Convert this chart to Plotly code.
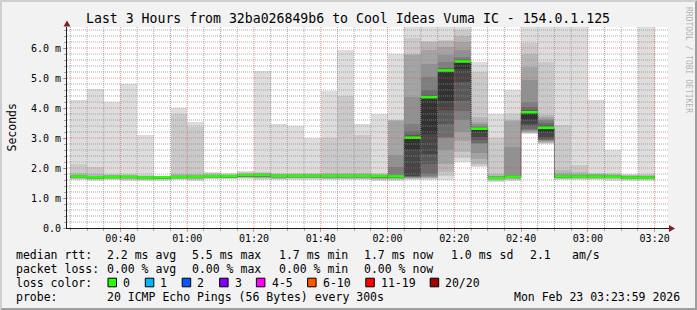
import plotly.graph_objects as go
import pandas as pd

W, H = 697, 310
L, R, T, B = 67, 29, 27, 82
PW = W - L - R
PH = H - T - B
Y0PIX = H - B

def px(x):
    return (x - L) / PW

def py(y):
    return (Y0PIX - y) / PH

DAY = "2026-02-23 "
FONT = "DejaVu Sans Mono"

# ---------------- data ----------------
bar_starts = ["00:25", "00:30", "00:35", "00:40", "00:45", "00:50", "00:55",
              "01:00", "01:05", "01:10", "01:15", "01:20", "01:25", "01:30", "01:35",
              "01:40", "01:45", "01:50", "01:55", "02:00", "02:05", "02:10", "02:15",
              "02:20", "02:25", "02:30", "02:35", "02:40", "02:45", "02:50", "02:55",
              "03:00", "03:05", "03:10", "03:15"]

median_ms = [1.72, 1.69, 1.70, 1.71, 1.68, 1.69, 1.70, 1.71, 1.73, 1.73, 1.76, 1.76,
             1.74, 1.74, 1.74, 1.74, 1.74, 1.74, 1.73, 1.72, 3.01, 4.36, 5.25, 5.55,
             3.31, 1.66, 1.71, 3.86, 3.34, 1.72, 1.72, 1.72, 1.71, 1.68, 1.68]

# 20 sorted ping rtts (ms) per 5-minute step
pings_ms = [
    [1.60,1.63,1.65,1.67,1.68,1.69,1.70,1.71,1.71,1.72,1.72,1.73,1.73,1.74,1.75,1.76,1.78,1.83,2.14,4.28],
    [1.58,1.61,1.63,1.64,1.65,1.66,1.67,1.68,1.68,1.69,1.69,1.70,1.70,1.71,1.72,1.73,1.75,1.80,2.04,4.64],
    [1.59,1.62,1.64,1.65,1.66,1.67,1.68,1.69,1.69,1.70,1.70,1.71,1.71,1.72,1.73,1.74,1.76,1.78,1.80,4.21],
    [1.58,1.61,1.63,1.65,1.66,1.67,1.68,1.69,1.70,1.70,1.71,1.71,1.72,1.72,1.73,1.74,1.75,1.77,1.80,4.80],
    [1.56,1.59,1.61,1.63,1.64,1.65,1.66,1.67,1.67,1.68,1.68,1.69,1.69,1.70,1.71,1.72,1.73,1.75,1.78,3.11],
    [1.58,1.60,1.62,1.63,1.64,1.65,1.66,1.67,1.68,1.69,1.69,1.70,1.70,1.71,1.71,1.72,1.72,1.73,1.74,1.75],
    [1.59,1.62,1.64,1.65,1.66,1.67,1.68,1.69,1.70,1.70,1.70,1.71,1.72,1.72,1.73,1.74,1.76,1.80,3.81,4.01],
    [1.56,1.60,1.63,1.65,1.66,1.67,1.68,1.69,1.70,1.71,1.71,1.72,1.72,1.73,1.74,1.75,1.77,1.80,3.36,3.54],
    [1.62,1.64,1.66,1.67,1.68,1.69,1.70,1.71,1.72,1.73,1.73,1.74,1.74,1.75,1.76,1.77,1.78,1.80,1.83,1.87],
    [1.62,1.64,1.66,1.67,1.68,1.69,1.70,1.71,1.72,1.72,1.73,1.73,1.74,1.75,1.75,1.76,1.77,1.78,1.80,1.83],
    [1.63,1.66,1.68,1.69,1.70,1.71,1.72,1.73,1.74,1.75,1.76,1.76,1.77,1.78,1.79,1.80,1.81,1.83,1.86,1.89],
    [1.61,1.64,1.67,1.68,1.69,1.70,1.71,1.72,1.74,1.75,1.76,1.77,1.77,1.78,1.79,1.80,1.82,1.84,1.88,5.24],
    [1.60,1.63,1.65,1.67,1.68,1.69,1.70,1.71,1.72,1.73,1.74,1.74,1.75,1.76,1.77,1.78,1.79,1.81,1.84,3.48],
    [1.61,1.64,1.66,1.67,1.68,1.69,1.70,1.71,1.72,1.73,1.74,1.74,1.75,1.76,1.77,1.78,1.79,1.81,1.83,3.41],
    [1.61,1.64,1.66,1.67,1.68,1.69,1.70,1.71,1.72,1.73,1.74,1.74,1.75,1.76,1.77,1.78,1.79,1.80,1.83,3.01],
    [1.60,1.63,1.65,1.67,1.68,1.69,1.70,1.71,1.72,1.73,1.74,1.74,1.75,1.76,1.77,1.78,1.80,1.84,3.00,4.56],
    [1.60,1.63,1.65,1.67,1.68,1.69,1.70,1.71,1.72,1.73,1.74,1.75,1.75,1.76,1.77,1.78,1.80,1.85,4.41,5.94],
    [1.60,1.63,1.65,1.67,1.68,1.69,1.70,1.71,1.72,1.73,1.74,1.74,1.75,1.76,1.77,1.78,1.80,1.83,3.11,3.47],
    [1.58,1.61,1.63,1.65,1.67,1.68,1.69,1.70,1.71,1.72,1.73,1.74,1.74,1.75,1.76,1.77,1.78,1.80,1.83,3.79],
    [1.58,1.61,1.63,1.65,1.66,1.67,1.68,1.69,1.70,1.71,1.72,1.73,1.75,1.78,2.03,2.42,3.58,3.59,3.60,5.79],
    [1.60,1.63,1.65,1.66,1.68,1.69,1.70,1.72,1.75,2.60,3.02,3.05,3.10,3.25,3.48,4.38,5.78,5.80,6.33,7.00],
    [1.61,1.64,1.66,1.68,1.70,1.74,1.81,2.14,2.47,3.14,4.36,4.38,4.43,4.59,5.03,5.48,5.95,6.20,6.22,7.00],
    [1.59,1.75,1.86,2.14,2.60,3.00,3.03,3.48,3.92,4.25,5.25,5.28,5.31,5.32,5.54,5.76,6.04,6.25,6.26,7.00],
    [2.20,2.35,2.53,2.90,3.20,3.60,3.90,4.25,4.86,5.30,5.55,5.57,5.59,5.62,5.70,5.92,6.20,6.40,6.60,7.00],
    [2.03,2.08,2.15,2.30,2.50,2.80,2.85,2.92,3.05,3.20,3.31,3.33,3.35,3.37,3.40,3.48,3.55,3.70,5.20,5.53],
    [1.53,1.57,1.60,1.62,1.63,1.64,1.65,1.65,1.66,1.66,1.67,1.67,1.68,1.69,1.70,1.72,1.75,1.80,3.00,3.80],
    [1.58,1.61,1.63,1.65,1.66,1.67,1.68,1.69,1.70,1.71,1.72,1.73,1.74,1.75,1.77,2.70,3.57,3.59,3.81,4.59],
    [3.14,3.16,3.18,3.20,3.22,3.26,3.30,3.40,3.48,3.59,3.86,3.90,3.95,4.03,4.20,4.92,5.37,5.81,6.17,7.00],
    [2.81,2.83,2.85,2.87,2.90,2.92,2.95,2.98,3.05,3.20,3.34,3.38,3.42,3.50,3.59,3.65,3.70,3.76,5.53,7.00],
    [1.59,1.62,1.64,1.66,1.67,1.68,1.69,1.70,1.71,1.72,1.72,1.73,1.74,1.75,1.76,1.78,1.82,1.92,3.42,7.00],
    [1.60,1.63,1.65,1.67,1.68,1.69,1.70,1.71,1.72,1.72,1.73,1.73,1.74,1.75,1.76,1.78,1.81,1.86,2.11,7.00],
    [1.60,1.63,1.65,1.67,1.68,1.69,1.70,1.71,1.72,1.72,1.73,1.73,1.74,1.75,1.76,1.77,1.79,1.81,1.83,4.28],
    [1.58,1.62,1.64,1.66,1.67,1.68,1.69,1.70,1.71,1.71,1.72,1.72,1.73,1.74,1.75,1.76,1.78,1.80,1.84,2.61],
    [1.57,1.60,1.62,1.63,1.64,1.65,1.66,1.67,1.68,1.68,1.69,1.69,1.70,1.71,1.72,1.73,1.74,1.76,1.78,1.81],
    [1.58,1.61,1.62,1.63,1.64,1.65,1.66,1.67,1.68,1.68,1.69,1.69,1.70,1.71,1.72,1.73,1.74,1.76,1.79,7.00],
]

y_tick_vals = [0, 1, 2, 3, 4, 5, 6]
y_tick_text = ["0.0", "1.0 m", "2.0 m", "3.0 m", "4.0 m", "5.0 m", "6.0 m"]

loss_labels = ["0", "1", "2", "3", "4-5", "6-10", "11-19", "20/20"]
loss_colors = ["#26ff00", "#00b8ff", "#0059ff", "#7e00ff", "#ff00ff", "#ff5500", "#ff0000", "#a00000"]

stats_rtt = ["2.2 ms avg", "5.5 ms max", "1.7 ms min", "1.7 ms now", "1.0 ms sd", "2.1", "am/s"]
stats_loss = ["0.00 % avg", "0.00 % max", "0.00 % min", "0.00 % now"]
title_text = "Last 3 Hours from 32ba026849b6 to Cool Ideas Vuma IC - 154.0.1.125"
probe_text = "20 ICMP Echo Pings (56 Bytes) every 300s"
stamp_text = "Mon Feb 23 03:23:59 2026"

# ---------------- figure ----------------
STEP = pd.Timedelta(minutes=5)
starts = [pd.Timestamp(DAY + s) for s in bar_starts]
centers = [s + STEP / 2 for s in starts]

fig = go.Figure()

n = len(pings_ms[0])
half = n // 2
for i in range(half):
    shade = int(190 / half * (half - (i + 1))) + 50
    col = "#%02x%02x%02x" % (shade, shade, shade)
    lo = [p[i] for p in pings_ms]
    hi = [p[n - 1 - i] for p in pings_ms]
    fig.add_trace(go.Bar(x=centers, y=[h - l for h, l in zip(hi, lo)], base=lo,
                         width=300000, marker=dict(color=col, line=dict(width=0)),
                         showlegend=False, hoverinfo="skip"))

# black median step line
fig.add_trace(go.Scatter(x=starts + [starts[-1] + STEP], y=median_ms + [median_ms[-1]],
                         mode="lines", line=dict(color="#202020", width=1, dash="1px,1px", shape="hv"),
                         showlegend=False, hoverinfo="skip"))
# coloured median segments (loss 0 -> green)
gx, gy = [], []
for s, m in zip(starts, median_ms):
    gx += [s, s + STEP, None]
    gy += [m, m, None]
fig.add_trace(go.Scatter(x=gx, y=gy, mode="lines", line=dict(color=loss_colors[0], width=2.6),
                         showlegend=False, hoverinfo="skip"))

shapes = []
GRID = "rgba(143,143,143,0.75)"
MGRID = "rgba(222,79,79,0.6)"
# vertical grid (above smoke, like rrdtool)
for t in pd.date_range(DAY + "00:25", DAY + "03:20", freq="5min"):
    major = (t.minute % 20 == 0)
    shapes.append(dict(type="line", xref="x", yref="paper", x0=t, x1=t, y0=0, y1=1,
                       line=dict(color=MGRID if major else GRID, width=1, dash="1px,1px"),
                       layer="above"))
# horizontal grid
for k in range(1, 34):
    v = round(k * 0.2, 1)
    major = abs(v - round(v)) < 1e-6
    shapes.append(dict(type="line", xref="paper", yref="y", x0=0, x1=1, y0=v, y1=v,
                       line=dict(color=MGRID if major else GRID, width=1, dash="1px,1px"),
                       layer="above"))

ARROW = "rgb(128,31,31)"
AXIS = "rgb(31,31,31)"
# axis arrows
shapes.append(dict(type="path", xref="paper", yref="paper",
                   path=f"M {px(63.5)},{py(26.5)} L {px(70.5)},{py(26.5)} L {px(67)},{py(20.5)} Z",
                   fillcolor=ARROW, line=dict(width=0), layer="above"))
shapes.append(dict(type="line", xref="paper", yref="paper", x0=px(668), x1=px(670), y0=py(228.5), y1=py(228.5),
                   line=dict(color=AXIS, width=1), layer="above"))
shapes.append(dict(type="path", xref="paper", yref="paper",
                   path=f"M {px(669)},{py(225)} L {px(669)},{py(232)} L {px(675)},{py(228.5)} Z",
                   fillcolor=ARROW, line=dict(width=0), layer="above"))

# 3d frame
shapes.append(dict(type="path", xref="paper", yref="paper",
                   path=(f"M {px(0)},{py(310)} L {px(2)},{py(308)} L {px(2)},{py(2)} L {px(695)},{py(2)} "
                         f"L {px(697)},{py(0)} L {px(0)},{py(0)} Z"),
                   fillcolor="#cfcfcf", line=dict(width=0), layer="above"))
shapes.append(dict(type="path", xref="paper", yref="paper",
                   path=(f"M {px(2)},{py(308)} L {px(695)},{py(308)} L {px(695)},{py(2)} L {px(697)},{py(0)} "
                         f"L {px(697)},{py(310)} L {px(0)},{py(310)} Z"),
                   fillcolor="#9e9e9e", line=dict(width=0), layer="above"))

annotations = []

def text_at(x, y, s, size=11.5, anchor="left", color="black", angle=0):
    annotations.append(dict(x=px(x), y=py(y), xref="paper", yref="paper", text=s, showarrow=False,
                            xanchor=anchor, yanchor="middle", textangle=angle, borderpad=0, borderwidth=0,
                            font=dict(family=FONT, size=size, color=color)))

text_at(348.0, 18.5, title_text, size=13.2, anchor="center")
text_at(11, 127.5, "Seconds", size=11.5, anchor="center", angle=-90)
text_at(689, 60, "RRDTOOL / TOBI OETIKER", size=8, anchor="center", color="rgba(0,0,0,0.3)", angle=90)

ROW = [254.5, 268.5, 282.5, 296.5]
COLS = [107.1, 192.4, 279.1, 364.4, 451.1, 529.8, 572.0]
text_at(16, ROW[0], "median rtt:")
for x, s in zip(COLS, stats_rtt):
    text_at(x, ROW[0], s)
text_at(16, ROW[1], "packet loss:")
for x, s in zip(COLS, stats_loss):
    text_at(x, ROW[1], s)
text_at(16, ROW[2], "loss color:")
box_x = [108.0, 145.3, 182.2, 219.6, 256.4, 307.6, 365.8, 430.2]
for bx, lab, col in zip(box_x, loss_labels, loss_colors):
    shapes.append(dict(type="rect", xref="paper", yref="paper",
                       x0=px(bx), x1=px(bx + 8.5), y0=py(ROW[2] + 4.3), y1=py(ROW[2] - 4.3),
                       fillcolor=col, line=dict(color="black", width=1), layer="above"))
    text_at(bx + 15.1, ROW[2], lab)
text_at(16, ROW[3], "probe:")
text_at(107.1, ROW[3], probe_text)
text_at(680, ROW[3], stamp_text, anchor="right")

fig.update_layout(
    width=W, height=H, margin=dict(l=L, r=R, t=T, b=B, pad=0),
    paper_bgcolor="#f2f2f2", plot_bgcolor="white",
    barmode="overlay", bargap=0, showlegend=False,
    shapes=shapes, annotations=annotations,
    font=dict(family=FONT, color="black"),
    xaxis=dict(type="date", range=[DAY + "00:24:00", DAY + "03:24:00"], showgrid=False, zeroline=False,
               showline=True, linecolor=AXIS, linewidth=1,
               tick0=DAY + "00:00", dtick=1200000, tickformat="%H:%M",
               ticks="outside", ticklen=3, tickcolor=MGRID, ticklabelstandoff=-2,
               tickfont=dict(family=FONT, size=10, color="black"),
               minor=dict(dtick=300000, tick0=DAY + "00:00", ticks="outside", ticklen=2,
                          tickcolor=GRID, showgrid=False)),
    yaxis=dict(range=[0, 6.7], showgrid=False, zeroline=False, showline=True, linecolor=AXIS, linewidth=1,
               tickmode="array", tickvals=y_tick_vals, ticktext=y_tick_text,
               ticks="outside", ticklen=3, tickcolor=MGRID,
               tickfont=dict(family=FONT, size=10, color="black"),
               minor=dict(dtick=0.2, tick0=0, ticks="outside", ticklen=2, tickcolor=GRID, showgrid=False)),
)

fig.write_html("out.html")
